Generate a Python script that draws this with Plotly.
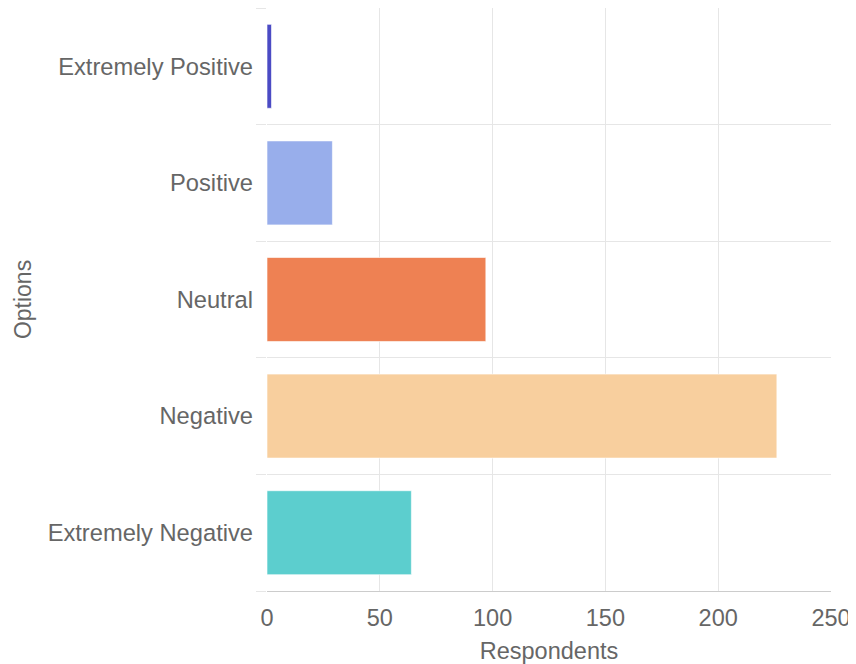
import plotly.graph_objects as go

categories = ["Extremely Negative", "Negative", "Neutral", "Positive", "Extremely Positive"]
respondents = [64, 226, 97, 29, 2]
colors = ["#5ccece", "#f8cf9e", "#ee8153", "#98aeeb", "#4b4bc4"]
x_ticks = [0, 50, 100, 150, 200, 250]

font_family = "Liberation Sans, Arial, sans-serif"
text_color = "#666666"
grid_color = "#e6e6e6"

fig = go.Figure(
    go.Bar(
        y=categories,
        x=respondents,
        orientation="h",
        marker=dict(color=colors, line=dict(color="rgba(255,255,255,0.6)", width=1)),
        showlegend=False,
    )
)

fig.update_layout(
    width=848,
    height=656,
    margin=dict(l=259, r=25, t=0, b=73),
    paper_bgcolor="white",
    plot_bgcolor="white",
    bargap=0.28,
    font=dict(family=font_family, color=text_color, size=23),
    xaxis=dict(
        range=[0, 250],
        tickvals=x_ticks,
        showgrid=True,
        gridcolor=grid_color,
        gridwidth=1,
        zeroline=False,
        showline=True,
        linecolor="#cccccc",
        linewidth=1,
        ticks="",
        ticklabelstandoff=6,
        tickfont=dict(size=23.5, color=text_color),
        title=dict(text="Respondents", font=dict(size=23.5, color=text_color), standoff=16),
    ),
    yaxis=dict(
        categoryorder="array",
        categoryarray=categories,
        tickson="boundaries",
        showgrid=True,
        gridcolor=grid_color,
        gridwidth=1,
        ticks="outside",
        ticklen=10,
        tickcolor=grid_color,
        zeroline=False,
        showline=False,
        ticklabelstandoff=13,
        tickfont=dict(size=23.7, color=text_color),
        title=dict(text="Options", font=dict(size=23, color=text_color), standoff=9),
    ),
)

fig.write_html("out.html")
